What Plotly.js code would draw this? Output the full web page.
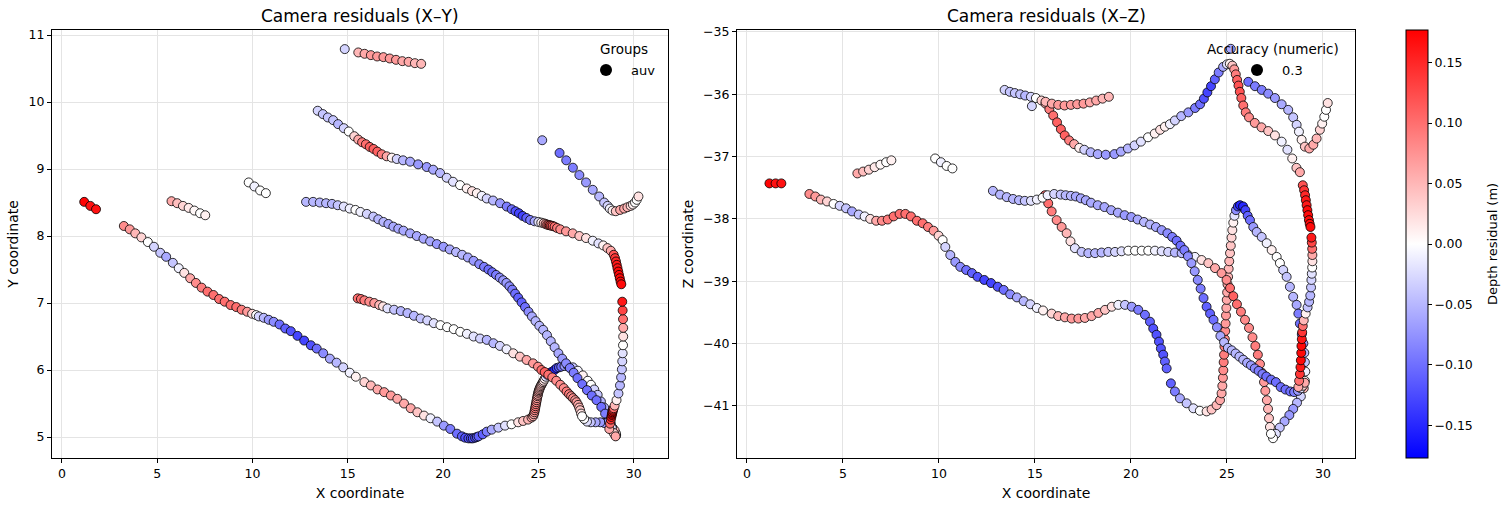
<!DOCTYPE html>
<html>
<head>
<meta charset="utf-8">
<script src="https://cdn.plot.ly/plotly-3.0.1.min.js"></script>
<style>
  html, body { margin: 0; padding: 0; background: #fff; }
  #chart { width: 1509px; height: 511px; }
</style>
</head>
<body>
<div id="chart"></div>
<script>
// Camera positions (X, Y, Z in m) and depth residual (m), one set of arrays per survey leg.
const legA_x = [1.17, 1.49, 1.79];
const legA_y = [8.51, 8.45, 8.40];
const legA_z = [-37.43, -37.43, -37.43];
const legA_r = [0.175, 0.165, 0.165];

const legB_x = [5.75, 6.05, 6.35, 6.65, 6.95, 7.25, 7.52];
const legB_y = [8.52, 8.49, 8.45, 8.42, 8.38, 8.34, 8.31];
const legB_z = [-37.27, -37.24, -37.21, -37.17, -37.13, -37.09, -37.06];
const legB_r = [0.06, 0.045, 0.03, 0.015, 0.005, 0.0, 0.01];

const legC_x = [9.8, 10.1, 10.4, 10.7];
const legC_y = [8.8, 8.74, 8.68, 8.64];
const legC_z = [-37.03, -37.09, -37.15, -37.19];
const legC_r = [0.0, -0.01, 0.0, 0.0];

const legD_x = [3.25,3.56,3.85,4.17,4.51,4.83,5.16,5.47,5.82,6.13,6.42,6.73,7.03,7.33,7.64,7.95,8.25,8.54,8.85,9.15,9.43,9.72,9.98,10.19,10.33,10.59,10.85,11.11,11.42,11.72,12.01,12.36,12.71,13.06,13.37,13.71,14.06,14.41,14.76,15.1,15.42,15.87,16.21,16.56,16.91,17.26,17.6,17.95,18.3,18.65,19.0,19.34,19.69,20.04,20.38,20.73,20.99,21.16,21.33,21.46,21.56,21.68,21.77,21.86,22.08,22.29,22.55,22.9,23.25,23.59,23.94,24.2,24.46,24.64,24.72];
const legD_y = [8.15,8.10,8.04,7.98,7.91,7.84,7.75,7.69,7.60,7.52,7.45,7.37,7.30,7.23,7.17,7.12,7.06,7.02,6.97,6.94,6.90,6.87,6.84,6.82,6.80,6.78,6.75,6.72,6.68,6.62,6.58,6.51,6.44,6.37,6.32,6.25,6.17,6.11,6.04,5.96,5.90,5.82,5.77,5.71,5.67,5.62,5.57,5.50,5.43,5.37,5.32,5.28,5.23,5.17,5.12,5.05,5.01,4.99,4.98,4.98,4.98,4.99,5.00,5.01,5.04,5.08,5.11,5.14,5.17,5.19,5.22,5.24,5.26,5.29,5.31];
const legD_z = [-37.60,-37.64,-37.69,-37.72,-37.76,-37.79,-37.83,-37.88,-37.93,-37.96,-38.00,-38.03,-38.03,-38.01,-37.96,-37.92,-37.92,-37.96,-38.03,-38.07,-38.13,-38.19,-38.27,-38.34,-38.45,-38.58,-38.69,-38.77,-38.82,-38.87,-38.93,-38.98,-39.03,-39.09,-39.14,-39.21,-39.26,-39.32,-39.37,-39.43,-39.47,-39.52,-39.56,-39.58,-39.60,-39.60,-39.59,-39.56,-39.51,-39.46,-39.41,-39.38,-39.38,-39.41,-39.46,-39.54,-39.65,-39.76,-39.86,-39.97,-40.08,-40.18,-40.29,-40.40,-40.64,-40.77,-40.88,-40.96,-41.04,-41.08,-41.09,-41.06,-40.99,-40.91,-40.80];
const legD_r = [0.08,0.07,0.05,0.03,0.0,-0.03,-0.04,-0.06,-0.04,-0.01,0.02,0.06,0.08,0.09,0.10,0.10,0.10,0.10,0.10,0.10,0.09,0.07,0.03,0.0,-0.03,-0.05,-0.07,-0.08,-0.10,-0.11,-0.12,-0.13,-0.13,-0.12,-0.10,-0.08,-0.06,-0.05,-0.03,-0.01,0.01,0.03,0.05,0.06,0.07,0.07,0.06,0.06,0.06,0.04,0.02,-0.01,-0.04,-0.07,-0.09,-0.10,-0.11,-0.12,-0.12,-0.12,-0.12,-0.12,-0.11,-0.11,-0.11,-0.09,-0.06,-0.04,-0.02,0.0,0.02,0.04,0.05,0.06,0.06];

const legE_x = [24.76,24.79,24.81,24.83,24.85,24.87,24.89,24.91,24.93,24.95,24.97,24.99,25.01,25.03,25.06,25.09,25.12,25.16,25.2,25.24,25.28,25.33,25.39,25.47,25.57,25.68,25.84,25.96,26.08,26.2,26.37,26.55,26.81,27.07,27.33,27.59,27.76,27.93,28.11,28.28,28.45,28.63,28.72,28.8,28.9,28.98,29.03,29.06,29.08,29.06,29.0,28.85,28.65,28.45,28.25,28.0,27.75,27.55,27.4];
const legE_y = [5.34,5.37,5.40,5.43,5.46,5.49,5.52,5.55,5.58,5.61,5.63,5.66,5.68,5.70,5.72,5.74,5.76,5.78,5.80,5.82,5.84,5.87,5.90,5.93,5.95,5.97,6.00,6.03,6.04,6.05,6.06,6.06,6.04,5.99,5.92,5.84,5.78,5.71,5.63,5.53,5.44,5.33,5.27,5.20,5.13,5.07,5.03,5.02,5.03,5.06,5.10,5.15,5.19,5.21,5.22,5.22,5.22,5.23,5.27];
const legE_z = [-40.68,-40.55,-40.43,-40.30,-40.18,-40.05,-39.93,-39.80,-39.68,-39.55,-39.43,-39.30,-39.18,-39.05,-38.93,-38.80,-38.68,-38.55,-38.43,-38.30,-38.18,-38.06,-37.95,-37.86,-37.80,-37.78,-37.80,-37.86,-37.95,-38.02,-38.13,-38.21,-38.29,-38.39,-38.50,-38.61,-38.71,-38.82,-38.93,-39.09,-39.25,-39.38,-39.52,-39.68,-39.85,-40.00,-40.15,-40.30,-40.45,-40.60,-40.72,-40.85,-40.95,-41.05,-41.15,-41.25,-41.35,-41.45,-41.52];
const legE_r = [0.06,0.07,0.08,0.09,0.09,0.09,0.08,0.08,0.07,0.07,0.06,0.06,0.06,0.06,0.05,0.05,0.05,0.04,0.04,0.03,0.02,0.01,-0.02,-0.08,-0.13,-0.15,-0.15,-0.13,-0.11,-0.10,-0.07,-0.05,-0.04,-0.01,0.01,0.0,0.0,-0.03,-0.04,-0.05,-0.05,-0.06,-0.09,-0.10,-0.10,-0.07,-0.05,-0.04,-0.01,0.01,0.05,-0.03,-0.05,-0.07,-0.07,-0.06,-0.04,-0.02,0.0];

const legF_x = [15.52,15.69,15.87,16.13,16.39,16.65,16.85,17.08,17.43,17.78,18.13,18.47,18.82,19.17,19.51,19.86,20.21,20.56,20.9,21.25,21.6,21.94,22.29,22.64,22.98,23.33,23.68,24.03,24.38,24.72,24.98,25.16,25.33,25.52,25.73,25.94,26.15,26.33,26.48,26.61,26.72,26.82,26.93,27.0,27.08,27.14,27.19,27.24,27.29];
const legF_y = [7.07,7.06,7.04,7.02,7.0,6.97,6.95,6.92,6.9,6.88,6.85,6.81,6.77,6.74,6.7,6.67,6.64,6.61,6.57,6.54,6.5,6.47,6.45,6.4,6.36,6.31,6.25,6.2,6.15,6.1,6.05,6.0,5.97,5.93,5.89,5.84,5.78,5.73,5.68,5.64,5.61,5.58,5.55,5.52,5.48,5.44,5.4,5.35,5.31];
const legF_z = [-37.62,-37.75,-37.88,-38.02,-38.13,-38.23,-38.36,-38.47,-38.53,-38.55,-38.55,-38.54,-38.53,-38.53,-38.52,-38.51,-38.51,-38.51,-38.51,-38.51,-38.52,-38.53,-38.54,-38.55,-38.58,-38.61,-38.66,-38.71,-38.79,-38.87,-38.98,-39.11,-39.24,-39.37,-39.49,-39.62,-39.75,-39.9,-40.04,-40.18,-40.33,-40.47,-40.62,-40.76,-40.91,-41.05,-41.2,-41.34,-41.45];
const legF_r = [0.1,0.1,0.09,0.08,0.07,0.05,0.02,-0.02,-0.04,-0.05,-0.05,-0.05,-0.04,-0.03,-0.02,0.0,0.0,0.0,0.0,-0.01,-0.02,-0.03,-0.05,-0.05,-0.03,-0.01,0.02,0.04,0.06,0.07,0.08,0.1,0.11,0.1,0.09,0.08,0.08,0.08,0.09,0.09,0.08,0.08,0.07,0.07,0.06,0.05,0.04,0.02,0.0];

const legG_x = [12.81,13.18,13.53,13.86,14.17,14.47,14.79,15.10,15.40,15.66,16.0,16.34,16.6,16.87,17.13,17.39,17.65,17.92,18.27,18.62,18.97,19.32,19.67,20.02,20.35,20.68,21.0,21.3,21.6,21.9,22.15,22.38,22.58,22.78,22.97,23.15,23.32,23.48,23.63,23.78,23.94,24.12,24.3,24.48,24.66,24.85,25.05,25.25,25.45,25.65,25.85,26.05,26.25,26.45,26.65,26.85,27.05,27.3,27.55,27.8,28.05,28.3,28.5,28.7,28.85,28.95,29.05];
const legG_y = [8.51,8.51,8.50,8.49,8.48,8.46,8.44,8.41,8.39,8.36,8.33,8.29,8.25,8.21,8.18,8.14,8.11,8.08,8.04,8.0,7.96,7.92,7.88,7.84,7.80,7.76,7.72,7.68,7.63,7.58,7.54,7.5,7.46,7.42,7.38,7.34,7.3,7.25,7.2,7.14,7.08,7.01,6.94,6.87,6.8,6.73,6.66,6.6,6.52,6.43,6.34,6.25,6.17,6.1,6.03,5.96,5.88,5.79,5.7,5.62,5.55,5.45,5.35,5.24,5.14,5.06,5.01];
const legG_z = [-37.55,-37.61,-37.65,-37.68,-37.70,-37.71,-37.71,-37.69,-37.66,-37.62,-37.60,-37.61,-37.62,-37.63,-37.64,-37.67,-37.70,-37.74,-37.78,-37.81,-37.86,-37.90,-37.94,-37.97,-38.01,-38.05,-38.09,-38.13,-38.18,-38.23,-38.29,-38.35,-38.43,-38.5,-38.6,-38.71,-38.84,-38.98,-39.12,-39.27,-39.41,-39.52,-39.62,-39.74,-39.88,-39.98,-40.07,-40.11,-40.16,-40.21,-40.26,-40.31,-40.35,-40.40,-40.44,-40.49,-40.53,-40.58,-40.62,-40.70,-40.74,-40.77,-40.78,-40.76,-40.72,-40.68,-40.63];
const legG_r = [-0.05,-0.05,-0.05,-0.05,-0.05,-0.04,-0.02,-0.01,0.0,-0.01,-0.03,-0.04,-0.05,-0.05,-0.06,-0.06,-0.06,-0.06,-0.06,-0.06,-0.06,-0.06,-0.07,-0.07,-0.06,-0.05,-0.05,-0.06,-0.07,-0.08,-0.09,-0.1,-0.1,-0.09,-0.08,-0.07,-0.07,-0.08,-0.09,-0.1,-0.11,-0.11,-0.1,-0.08,-0.06,-0.05,-0.05,-0.05,-0.05,-0.05,-0.05,-0.06,-0.07,-0.08,-0.09,-0.09,-0.1,-0.1,-0.1,-0.1,-0.1,-0.1,-0.09,-0.07,-0.02,0.03,0.06];

const legH_x = [28.72,28.76,28.8,28.83,28.85,28.87,28.88,28.9,28.92,28.95,29.0,29.1,29.2,29.28,29.34,29.38,29.4,29.42,29.44,29.45,29.45,29.44,29.42,29.4];
const legH_y = [5.12,5.2,5.26,5.3,5.33,5.35,5.37,5.39,5.41,5.43,5.47,5.55,5.65,5.77,5.89,6.01,6.13,6.25,6.37,6.5,6.63,6.76,6.89,7.02];
const legH_z = [-40.70,-40.60,-40.49,-40.38,-40.27,-40.15,-40.04,-39.93,-39.82,-39.72,-39.63,-39.52,-39.42,-39.33,-39.23,-39.10,-38.98,-38.88,-38.78,-38.68,-38.58,-38.48,-38.38,-38.30];
const legH_r = [0.06,0.10,0.14,0.16,0.17,0.17,0.17,0.16,0.14,0.10,0.05,0.01,-0.04,-0.05,-0.05,-0.04,-0.03,-0.02,0.0,0.02,0.06,0.10,0.13,0.16];

const legI_x = [13.42,13.69,13.95,14.23,14.49,14.79,15.05,15.34,15.55,15.75,15.95,16.15,16.35,16.55,16.78,17.04,17.31,17.57,17.9,18.27,18.69,19.14,19.48,19.84,20.19,20.52,20.89,21.24,21.52,21.77,22.03,22.29,22.62,22.99,23.34,23.6,23.8,23.98,24.17,24.37,24.57,24.8,25.0,25.15,25.28,25.38,25.46,25.53,25.6,25.67,25.75,25.85,25.98,26.15,26.45,26.8,27.15,27.5,27.85,28.15,28.4,28.62,28.8,28.95,29.02,29.07,29.11,29.15,29.19,29.23,29.27,29.31,29.35];
const legI_y = [9.87,9.82,9.77,9.73,9.67,9.61,9.56,9.49,9.44,9.40,9.37,9.33,9.30,9.26,9.22,9.19,9.17,9.15,9.13,9.11,9.07,9.03,8.99,8.94,8.87,8.81,8.76,8.71,8.67,8.64,8.60,8.56,8.53,8.49,8.44,8.40,8.37,8.34,8.30,8.27,8.24,8.22,8.21,8.20,8.19,8.18,8.17,8.165,8.16,8.155,8.15,8.14,8.12,8.10,8.07,8.04,8.00,7.97,7.93,7.89,7.86,7.82,7.78,7.72,7.67,7.62,7.57,7.52,7.47,7.42,7.37,7.32,7.28];
const legI_z = [-35.93,-35.96,-35.98,-36.00,-36.02,-36.04,-36.06,-36.10,-36.15,-36.24,-36.34,-36.45,-36.56,-36.66,-36.74,-36.80,-36.86,-36.89,-36.93,-36.96,-36.97,-36.96,-36.92,-36.87,-36.82,-36.76,-36.69,-36.63,-36.57,-36.52,-36.48,-36.42,-36.35,-36.29,-36.22,-36.16,-36.07,-35.97,-35.87,-35.76,-35.65,-35.56,-35.52,-35.51,-35.54,-35.60,-35.68,-35.77,-35.86,-35.96,-36.06,-36.18,-36.29,-36.37,-36.46,-36.53,-36.59,-36.66,-36.76,-36.89,-37.03,-37.18,-37.25,-37.46,-37.54,-37.62,-37.70,-37.78,-37.86,-37.94,-38.02,-38.08,-38.13];
const legI_r = [-0.03,-0.04,-0.04,-0.04,-0.05,-0.03,0.0,0.03,0.06,0.09,0.10,0.11,0.11,0.11,0.09,0.06,0.01,-0.03,-0.05,-0.06,-0.07,-0.07,-0.06,-0.05,-0.03,-0.02,0.0,0.01,0.02,0.01,-0.01,-0.03,-0.05,-0.07,-0.09,-0.10,-0.12,-0.13,-0.13,-0.11,-0.09,-0.06,-0.02,0.01,0.04,0.07,0.09,0.11,0.12,0.12,0.11,0.10,0.09,0.08,0.07,0.06,0.04,0.02,-0.01,-0.02,0.01,0.04,0.06,0.12,0.14,0.15,0.16,0.16,0.17,0.17,0.17,0.17,0.17];

const legJ_x = [14.84,15.55,15.88,16.21,16.54,16.87,17.2,17.53,17.86,18.19,18.52,18.85];
const legJ_y = [10.79,10.74,10.72,10.7,10.68,10.67,10.65,10.63,10.61,10.6,10.58,10.57];
const legJ_z = [-36.19,-36.12,-36.15,-36.17,-36.18,-36.17,-36.16,-36.15,-36.13,-36.1,-36.07,-36.04];
const legJ_r = [-0.03,0.05,0.06,0.07,0.07,0.07,0.07,0.07,0.06,0.06,0.05,0.05];

const legK_x = [25.2,26.11,26.46,26.81,27.15,27.5,27.85,28.19,28.45,28.63,28.75,28.89,29.06,29.29,29.5,29.67,29.84,29.96,30.07,30.16,30.25];
const legK_y = [9.43,9.24,9.13,9.02,8.91,8.80,8.69,8.59,8.50,8.45,8.41,8.38,8.37,8.39,8.41,8.43,8.45,8.47,8.50,8.54,8.59];
const legK_z = [-35.27,-35.80,-35.87,-35.93,-35.99,-36.06,-36.16,-36.25,-36.37,-36.49,-36.60,-36.73,-36.84,-36.87,-36.81,-36.71,-36.57,-36.47,-36.36,-36.25,-36.14];
const legK_r = [-0.06,-0.10,-0.09,-0.09,-0.08,-0.07,-0.06,-0.05,-0.04,-0.03,-0.01,0.01,0.04,0.06,0.06,0.05,0.03,0.01,0.0,0.0,0.02];

const groupName = 'auv';
const accuracyValue = '0.3';
const cbTicks = [-0.15, -0.10, -0.05, 0.0, 0.05, 0.10, 0.15];
const cbTickText = ['\u22120.15', '\u22120.10', '\u22120.05', '0.00', '0.05', '0.10', '0.15'];
const xTicks = [0, 5, 10, 15, 20, 25, 30];
const yTicks = [5, 6, 7, 8, 9, 10, 11];
const zTicks = [-41, -40, -39, -38, -37, -36, -35];
const zTickText = ['\u221241', '\u221240', '\u221239', '\u221238', '\u221237', '\u221236', '\u221235'];

// ---- assemble all legs in flight order ----
const legs = [
  [legA_x, legA_y, legA_z, legA_r],
  [legB_x, legB_y, legB_z, legB_r],
  [legC_x, legC_y, legC_z, legC_r],
  [legD_x, legD_y, legD_z, legD_r],
  [legE_x, legE_y, legE_z, legE_r],
  [legF_x, legF_y, legF_z, legF_r],
  [legG_x, legG_y, legG_z, legG_r],
  [legH_x, legH_y, legH_z, legH_r],
  [legI_x, legI_y, legI_z, legI_r],
  [legJ_x, legJ_y, legJ_z, legJ_r],
  [legK_x, legK_y, legK_z, legK_r]
];
const X = [], Y = [], Z = [], R = [];
legs.forEach(([lx, ly, lz, lr]) => {
  X.push(...lx); Y.push(...ly); Z.push(...lz); R.push(...lr);
});

const W = 1509, H = 511;
const FONT = 'DejaVu Sans, Liberation Sans, sans-serif';
const bwr = [[0, 'rgb(0,0,255)'], [0.5, 'rgb(255,255,255)'], [1, 'rgb(255,0,0)']];
const CMAX = 0.177;

function markerStyle(withBar) {
  const m = {
    size: 9,
    color: R,
    colorscale: bwr,
    cmin: -CMAX,
    cmax: CMAX,
    line: { color: 'black', width: 0.8 },
    showscale: withBar
  };
  if (withBar) {
    m.colorbar = {
      x: 1406 / W, xanchor: 'left', xpad: 0,
      y: 1 - 244 / H, yanchor: 'middle', ypad: 0,
      len: 428 / H, lenmode: 'fraction',
      thickness: 22, thicknessmode: 'pixels',
      outlinewidth: 1, outlinecolor: 'black',
      ticks: 'outside', ticklen: 4, tickwidth: 1, tickcolor: 'black',
      tickvals: cbTicks, ticktext: cbTickText,
      tickfont: { family: FONT, size: 12.5, color: '#000' }
    };
  }
  return m;
}

const traces = [
  { type: 'scatter', mode: 'markers', x: X, y: Y, xaxis: 'x', yaxis: 'y',
    marker: markerStyle(false), showlegend: false, hoverinfo: 'skip' },
  { type: 'scatter', mode: 'markers', x: X, y: Z, xaxis: 'x2', yaxis: 'y2',
    marker: markerStyle(true), showlegend: false, hoverinfo: 'skip' },
  { type: 'scatter', mode: 'markers', x: [null], y: [null], xaxis: 'x', yaxis: 'y',
    name: groupName, legend: 'legend', showlegend: true,
    marker: { color: 'black', size: 12 } },
  { type: 'scatter', mode: 'markers', x: [null], y: [null], xaxis: 'x2', yaxis: 'y2',
    name: accuracyValue, legend: 'legend2', showlegend: true,
    marker: { color: 'black', size: 12 } }
];

function axisBase(extra) {
  return Object.assign({
    showline: true, mirror: true, linecolor: 'black', linewidth: 1,
    ticks: 'outside', ticklen: 4, tickwidth: 1, tickcolor: 'black',
    showgrid: true, gridcolor: '#e4e4e4', gridwidth: 1,
    zeroline: false, fixedrange: true,
    tickfont: { family: FONT, size: 12.5, color: '#000' }
  }, extra);
}

const LABEL = 14;
const yDom = [1 - 458 / H, 1 - 30 / H];
const legendBase = {
  xanchor: 'left', yanchor: 'top',
  bgcolor: 'rgba(0,0,0,0)', borderwidth: 0,
  font: { family: FONT, size: 13, color: '#000' },
  itemsizing: 'trace', itemwidth: 40
};
const layout = {
  width: W, height: H,
  margin: { l: 0, r: 0, t: 0, b: 0 },
  paper_bgcolor: 'white', plot_bgcolor: 'white',
  font: { family: FONT, size: 13, color: '#000' },
  xaxis: axisBase({ domain: [52 / W, 668 / W], range: [-0.52, 31.8], anchor: 'y',
    tickvals: xTicks, title: { text: 'X coordinate', standoff: 8, font: { size: LABEL } } }),
  yaxis: axisBase({ domain: yDom, range: [4.687, 11.075], anchor: 'x',
    tickvals: yTicks, title: { text: 'Y coordinate', standoff: 6, font: { size: LABEL } } }),
  xaxis2: axisBase({ domain: [737 / W, 1355 / W], range: [-0.52, 31.67], anchor: 'y2',
    tickvals: xTicks, title: { text: 'X coordinate', standoff: 8, font: { size: LABEL } } }),
  yaxis2: axisBase({ domain: yDom, range: [-41.838, -34.968], anchor: 'x2',
    tickvals: zTicks, ticktext: zTickText, title: { text: 'Z coordinate', standoff: 6, font: { size: LABEL } } }),
  legend: Object.assign({ x: 581 / W, y: 1 - 55 / H }, legendBase),
  legend2: Object.assign({ x: 1232 / W, y: 1 - 55 / H }, legendBase),
  annotations: [
    { text: 'Camera residuals (X\u2013Y)', xref: 'paper', yref: 'paper',
      x: 360 / W, y: 1 - 16 / H, xanchor: 'center', yanchor: 'middle', showarrow: false,
      font: { family: FONT, size: 17, color: '#000' } },
    { text: 'Camera residuals (X\u2013Z)', xref: 'paper', yref: 'paper',
      x: 1046 / W, y: 1 - 16 / H, xanchor: 'center', yanchor: 'middle', showarrow: false,
      font: { family: FONT, size: 17, color: '#000' } },
    { text: 'Groups', xref: 'paper', yref: 'paper',
      x: 624 / W, y: 1 - 49 / H, xanchor: 'center', yanchor: 'middle', showarrow: false,
      font: { family: FONT, size: 13.5, color: '#000' } },
    { text: 'Accuracy (numeric)', xref: 'paper', yref: 'paper',
      x: 1273 / W, y: 1 - 49 / H, xanchor: 'center', yanchor: 'middle', showarrow: false,
      font: { family: FONT, size: 13.5, color: '#000' } },
    { text: 'Depth residual (m)', xref: 'paper', yref: 'paper', textangle: -90,
      x: 1492 / W, y: 1 - 244 / H, xanchor: 'center', yanchor: 'middle', showarrow: false,
      font: { family: FONT, size: 13, color: '#000' } }
  ]
};

Plotly.newPlot('chart', traces, layout, { staticPlot: true, displayModeBar: false });
</script>
</body>
</html>
